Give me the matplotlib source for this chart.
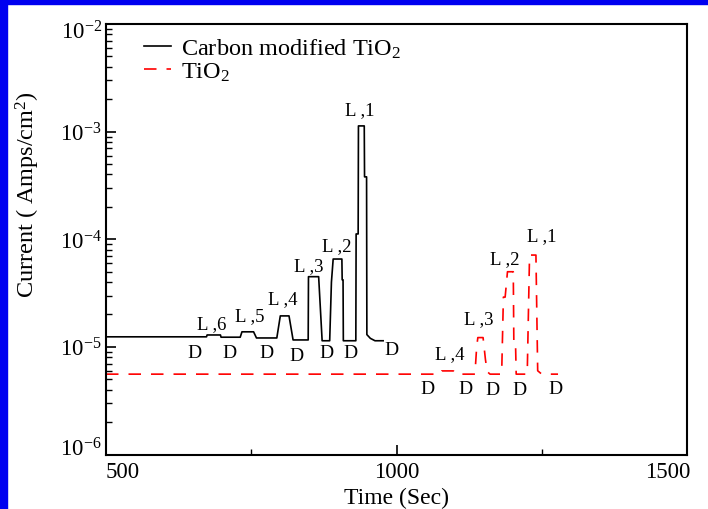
import matplotlib
matplotlib.use("Agg")
import matplotlib.pyplot as plt
import matplotlib.transforms as mtransforms
from matplotlib.patches import Rectangle
from matplotlib.ticker import LogLocator, FixedLocator, NullFormatter

plt.rcParams['font.family'] = ['Liberation Serif', 'DejaVu Serif']
plt.rcParams['mathtext.fontset'] = 'custom'
plt.rcParams['mathtext.rm'] = 'Liberation Serif'
plt.rcParams['mathtext.it'] = 'Liberation Serif:italic'
plt.rcParams['mathtext.bf'] = 'Liberation Serif:bold'

# ---- data ----
carbon_t = [500, 673, 674, 697, 698, 731, 734, 754, 759, 794, 800, 815, 822, 845,
            848, 848.5, 866, 872, 885, 888, 891, 906, 906.5, 908, 908.5, 929,
            930, 930.5, 934, 934.5, 944.5, 945, 948.5, 949, 955, 963, 977]
carbon_i = [1.24e-5, 1.24e-5, 1.29e-5, 1.29e-5, 1.23e-5, 1.23e-5, 1.38e-5, 1.38e-5,
            1.21e-5, 1.21e-5, 1.94e-5, 1.94e-5, 1.16e-5, 1.16e-5,
            1.16e-5, 4.49e-5, 4.49e-5, 1.14e-5, 1.14e-5, 4.0e-5, 6.55e-5, 6.55e-5,
            4.2e-5, 4.2e-5, 1.14e-5, 1.14e-5,
            1.14e-5, 1.12e-4, 1.12e-4, 1.13e-3, 1.13e-3, 3.8e-4, 3.8e-4, 1.3e-5,
            1.2e-5, 1.14e-5, 1.14e-5]

tio2_t = [500, 1075, 1078, 1098, 1102, 1135, 1138, 1140, 1149, 1153, 1156, 1161,
          1181, 1184, 1187, 1191, 1201, 1202, 1205, 1206, 1225, 1229, 1240, 1243,
          1250, 1278]
tio2_i = [5.58e-6, 5.58e-6, 5.98e-6, 5.98e-6, 5.58e-6, 5.58e-6, 1.0e-5, 1.22e-5,
          1.22e-5, 7.7e-6, 5.9e-6, 5.58e-6, 5.58e-6, 2.9e-5, 2.9e-5, 4.99e-5,
          4.99e-5, 1.0e-5, 1.0e-5, 5.58e-6, 5.58e-6, 7.13e-5, 7.13e-5, 6.0e-6,
          5.58e-6, 5.58e-6]

carbon_L_labels = ["L ,6", "L ,5", "L ,4", "L ,3", "L ,2", "L ,1"]
carbon_L_t = [682, 748, 805, 849, 897, 937]
carbon_L_i = [1.63e-5, 1.95e-5, 2.78e-5, 5.68e-5, 8.7e-5, 1.6e-3]
carbon_D_t = [653, 713, 777, 828, 880, 920, 992]
carbon_D_i = [8.9e-6, 8.9e-6, 8.9e-6, 8.26e-6, 8.9e-6, 8.9e-6, 9.55e-6]

tio2_L_labels = ["L ,4", "L ,3", "L ,2", "L ,1"]
tio2_L_t = [1091, 1142, 1186, 1250]
tio2_L_i = [8.57e-6, 1.84e-5, 6.55e-5, 1.08e-4]
tio2_D_t = [1054, 1118, 1166, 1211, 1273]
tio2_D_i = [4.14e-6, 4.14e-6, 4.06e-6, 4.06e-6, 4.14e-6]

series_names = ["Carbon modified TiO$_2$", "TiO$_2$"]
x_ticks = [500, 1000, 1500]
y_ticks = [1e-6, 1e-5, 1e-4, 1e-3, 1e-2]
y_ticklabels = ["10$^{-6}$", "10$^{-5}$", "10$^{-4}$", "10$^{-3}$", "10$^{-2}$"]

# ---- figure ----
fig = plt.figure(figsize=(7.08, 5.10), dpi=100, facecolor='white')
ax = fig.add_axes([106/708, 1-455.5/510, (687-106)/708, (455.5-25)/510])

ax.plot(carbon_t, carbon_i, color='black', lw=1.2, label=series_names[0])
ax.plot(tio2_t, tio2_i, color='#ff0000', lw=1.2, dashes=(7.5, 6), label=series_names[1])

ax.set_yscale('log')
ax.set_xlim(500, 1500)
ax.set_ylim(1e-6, 1e-2)

ax.set_xticks(x_ticks)
ax.set_xticklabels([str(v) for v in x_ticks])
ax.xaxis.set_minor_locator(FixedLocator([750, 1250]))
ax.set_yticks(y_ticks)
ax.set_yticklabels(y_ticklabels)
ax.yaxis.set_minor_locator(LogLocator(base=10, subs=range(2, 10)))
ax.yaxis.set_minor_formatter(NullFormatter())

ax.tick_params(axis='both', which='both', direction='in', top=False, right=False,
               labelsize=16.5)
ax.tick_params(axis='both', which='major', length=7, width=1.2)
ax.tick_params(axis='both', which='minor', length=4.5, width=1.0)
ax.tick_params(axis='x', which='major', pad=5)
ax.tick_params(axis='y', which='major', pad=3)
for s in ax.spines.values():
    s.set_linewidth(1.5)

# x tick label alignment like the reference (first left, last right)
xlabs = ax.get_xticklabels()
xlabs[0].set_ha('left')
xlabs[-1].set_ha('right')
xlabs[-1].set_transform(xlabs[-1].get_transform() +
                        mtransforms.ScaledTranslation(3/100, 0, fig.dpi_scale_trans))
ylabs = ax.get_yticklabels()
ylabs[0].set_transform(ylabs[0].get_transform() +
                       mtransforms.ScaledTranslation(0, 8/100, fig.dpi_scale_trans))
ylabs[-1].set_transform(ylabs[-1].get_transform() +
                        mtransforms.ScaledTranslation(0, -5/100, fig.dpi_scale_trans))

ax.set_xlabel("Time (Sec)", fontsize=17)
ax.xaxis.set_label_coords(0.5, -0.075)
ax.set_ylabel("Current ( Amps/cm$^2$)", fontsize=17.5)
ax.yaxis.set_label_coords(-0.11, 0.607)

for lab, t, i in zip(carbon_L_labels, carbon_L_t, carbon_L_i):
    ax.text(t, i, lab, fontsize=13.5, ha='center', va='center')
for t, i in zip(carbon_D_t, carbon_D_i):
    ax.text(t, i, "D", fontsize=14, ha='center', va='center')
for lab, t, i in zip(tio2_L_labels, tio2_L_t, tio2_L_i):
    ax.text(t, i, lab, fontsize=13.5, ha='center', va='center')
for t, i in zip(tio2_D_t, tio2_D_i):
    ax.text(t, i, "D", fontsize=14, ha='center', va='center')

ax.legend(loc='upper left', bbox_to_anchor=(0.065, 0.97), frameon=False,
          fontsize=17.5, handlelength=1.1, handletextpad=0.45, labelspacing=0.0,
          borderpad=0, borderaxespad=0)

# blue slide frame
fig.patches.append(Rectangle((0, 0), 7/708, 1, transform=fig.transFigure,
                             color='#0000f0', zorder=-1))
fig.patches.append(Rectangle((0, 1-5/510), 1, 5/510, transform=fig.transFigure,
                             color='#0000f0', zorder=-1))

fig.savefig("out.png", dpi=100, facecolor=fig.get_facecolor())
